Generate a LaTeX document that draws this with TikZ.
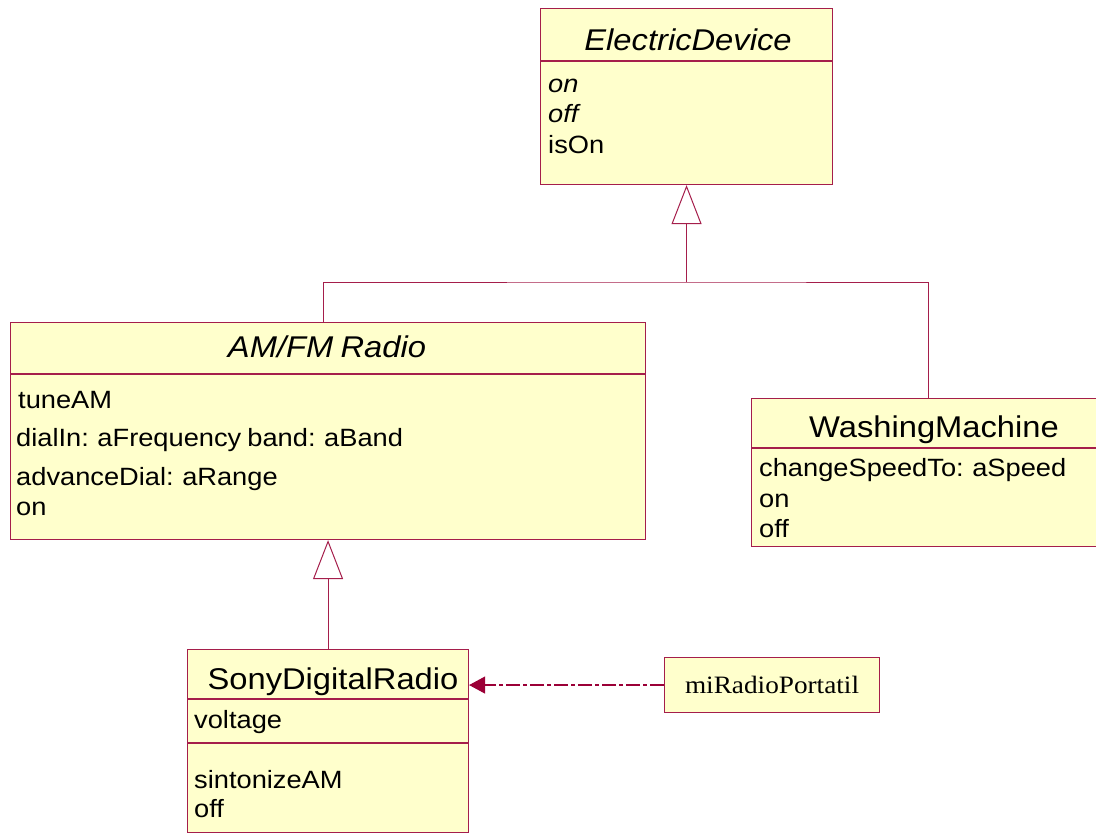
\documentclass[tikz,border=0pt]{standalone}
\usepackage{fontspec}
\setmainfont{Liberation Sans}[FakeStretch=1.09, WordSpace=0.8]
\newfontfamily\serifface{Liberation Serif}[FakeStretch=1.09]
\usetikzlibrary{arrows.meta}
\definecolor{umlline}{RGB}{165,30,75}
\definecolor{umlfill}{RGB}{255,255,204}
\definecolor{deparrow}{RGB}{155,0,55}

\begin{document}
\begin{tikzpicture}[x=1pt,y=-1pt,
  classbox/.style={draw=umlline, fill=umlfill, line width=1.1pt, inner sep=0, anchor=north west},
  divider/.style={draw=umlline, line width=1.1pt},
  clstitle/.style={inner sep=0, anchor=base, font=\fontsize{30}{36}\selectfont},
  member/.style={inner sep=0, anchor=base west, font=\fontsize{25}{30}\selectfont},
  genline/.style={draw=umlline, line width=1pt},
  gen/.style={genline, -{Triangle[open, length=39pt, width=30pt, fill=white]}},
  dep/.style={draw=deparrow, line width=1.2pt, dash pattern=on 14pt off 3pt on 4pt off 3pt,
              -{Triangle[length=16pt, width=17pt]}},
]
\useasboundingbox (0,0) rectangle (1096,833);

% class boxes
\node[classbox, minimum width=292pt, minimum height=176pt] (ed) at (540,8) {};
\node[classbox, minimum width=635pt, minimum height=217pt] (amfm) at (10,322) {};
\node[classbox, minimum width=347pt, minimum height=148pt] (wm) at (751,398) {};
\node[classbox, minimum width=281pt, minimum height=183pt] (sony) at (187,649) {};
\node[classbox, minimum width=215pt, minimum height=55pt] (mi) at (664,657) {};
\node[inner sep=0, font=\serifface\fontsize{25}{30}\selectfont] (mitext) at (mi.center) {miRadioPortatil};

% compartment dividers
\draw[divider] (ed.west |- 0,61) -- (ed.east |- 0,61);
\draw[divider] (amfm.west |- 0,374) -- (amfm.east |- 0,374);
\draw[divider] (wm.west |- 0,448) -- (wm.east |- 0,448);
\draw[divider] (sony.west |- 0,699) -- (sony.east |- 0,699);
\draw[divider] (sony.west |- 0,743) -- (sony.east |- 0,743);

% ElectricDevice
\node[clstitle] (edname) at (688,50) {\itshape ElectricDevice};
\node[member] (ed1) at (548,92) {\itshape on};
\node[member] (ed2) at (548,122) {\itshape off};
\node[member] (ed3) at (548,153) {isOn};

% AM/FM Radio
\node[clstitle] (amfmname) at (327,357) {\itshape AM/FM Radio};
\node[member] (am1) at (18,408) {tuneAM};
\node[member] (am2) at (16,446) {dialIn: aFrequency band: aBand};
\node[member] (am3) at (16,485) {advanceDial: aRange};
\node[member] (am4) at (16,515) {on};

% WashingMachine
\node[clstitle] (wmname) at (934,437) {WashingMachine};
\node[member] (wm1) at (759,476) {changeSpeedTo: aSpeed};
\node[member] (wm2) at (759,507) {on};
\node[member] (wm3) at (759,537) {off};

% SonyDigitalRadio
\node[clstitle] (sonyname) at (333,689) {SonyDigitalRadio};
\node[member] (so1) at (194,728) {voltage};
\node[member] (so2) at (194,788) {sintonizeAM};
\node[member] (so3) at (194,817) {off};

% generalisations
\coordinate (fork) at (ed.south |- 0,282);
\draw[genline] ([xshift=-4.5pt]amfm.north) |- (fork) -| ([xshift=3.5pt]wm.north);
\draw[gen] (fork) -- (ed.south);
\draw[gen] (sony.north) -- (amfm.south);

% instance dependency
\draw[dep] (mi.west) -- (mi.west -| sony.east);
\end{tikzpicture}
\end{document}
